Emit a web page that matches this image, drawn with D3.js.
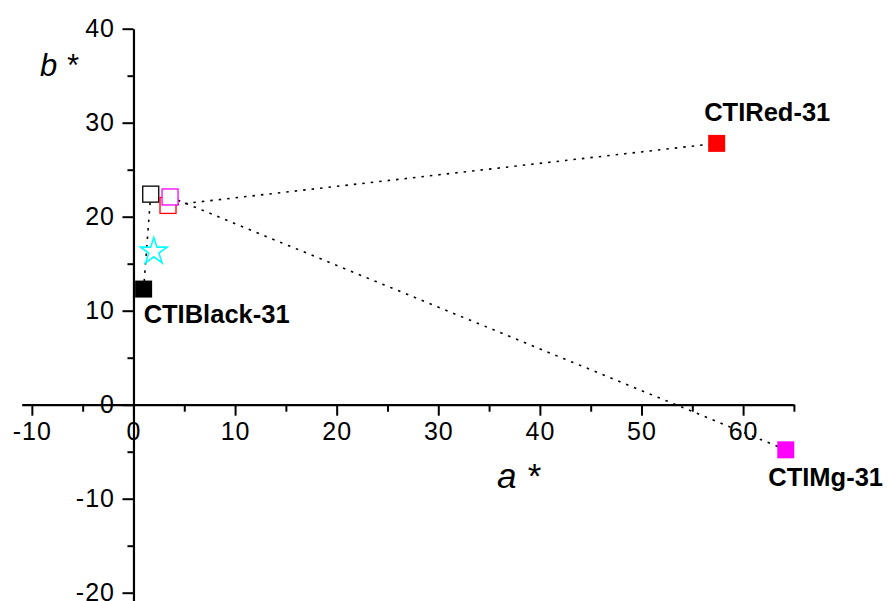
<!DOCTYPE html>
<html>
<head>
<meta charset="utf-8">
<script src="https://cdn.jsdelivr.net/npm/d3@7"></script>
<style>
  html, body { margin: 0; padding: 0; background: #fff; }
  svg { display: block; }
  text { font-family: "Liberation Sans", Arial, sans-serif; }
</style>
</head>
<body>
<svg id="chart" width="889" height="601"></svg>
<script>
// ---- data ----
const sampleNames = ["CTIBlack-31", "CTIRed-31", "CTIMg-31"];
const filledA = [1.0, 57.4, 64.2];
const filledB = [12.3, 27.8, -4.8];
const openA = [1.7, 3.4, 3.6];
const openB = [22.4, 21.2, 22.1];
const starA = [2.0];
const starB = [16.3];
const xTickValues = [-10, 0, 10, 20, 30, 40, 50, 60];
const xTickLabels = ["-10", "0", "10", "20", "30", "40", "50", "60"];
const yTickValues = [-20, -10, 0, 10, 20, 30, 40];
const yTickLabels = ["-20", "-10", "0", "10", "20", "30", "40"];
const xMinorValues = [-5, 5, 15, 25, 35, 45, 55, 65];
const yMinorValues = [-15, -5, 5, 15, 25, 35];

// ---- styles / layout ----
const colors = ["#000000", "#ff0000", "#ff00ff"];
const labelOffsets = [[0, 34], [-12.5, -22], [-17.5, 36]];

const svg = d3.select("#chart");
const x = d3.scaleLinear().domain([-11, 65]).range([21.7, 793.9]);
const y = d3.scaleLinear().domain([-21, 40]).range([602.1, 28.7]);

// axes
const xAxisG = svg.append("g").attr("transform", `translate(0,${y(0)})`);
xAxisG.call(d3.axisBottom(x).tickValues(xTickValues).tickSize(11).tickSizeOuter(0)
  .tickFormat((d, i) => xTickLabels[i]));
const xMinorG = svg.append("g").attr("transform", `translate(0,${y(0)})`);
xMinorG.call(d3.axisBottom(x).tickValues(xMinorValues).tickSize(7).tickSizeOuter(0).tickFormat(""));
xMinorG.select(".domain").remove();

const yAxisG = svg.append("g").attr("transform", `translate(${x(0)},0)`);
yAxisG.call(d3.axisLeft(y).tickValues(yTickValues).tickSize(11).tickSizeOuter(0)
  .tickFormat((d, i) => yTickLabels[i]));
const yMinorG = svg.append("g").attr("transform", `translate(${x(0)},0)`);
yMinorG.call(d3.axisLeft(y).tickValues(yMinorValues).tickSize(6).tickSizeOuter(0).tickFormat(""));
yMinorG.select(".domain").remove();

[xAxisG, xMinorG, yAxisG, yMinorG].forEach(g => {
  g.selectAll(".domain").attr("stroke", "#000").attr("stroke-width", 2.2);
  g.selectAll(".tick line").attr("stroke", "#000").attr("stroke-width", 2);
});
xAxisG.selectAll(".tick text")
  .attr("y", 35).attr("dy", 0)
  .attr("font-size", 25).attr("letter-spacing", 1)
  .attr("font-family", "Liberation Sans, Arial, sans-serif").attr("fill", "#000");
yAxisG.selectAll(".tick text")
  .attr("x", -18.5).attr("dy", "0.3em")
  .attr("font-size", 25).attr("letter-spacing", 1)
  .attr("font-family", "Liberation Sans, Arial, sans-serif").attr("fill", "#000");

// axis titles
svg.append("text").attr("x", 40).attr("y", 76)
  .attr("font-size", 31).attr("font-style", "italic").text("b *");
svg.append("text").attr("x", 497).attr("y", 488)
  .attr("font-size", 35).attr("font-style", "italic").text("a *");

// dotted connecting lines (open -> filled)
sampleNames.forEach((name, i) => {
  svg.append("line")
    .attr("x1", x(openA[i])).attr("y1", y(openB[i]))
    .attr("x2", x(filledA[i])).attr("y2", y(filledB[i]))
    .attr("stroke", "#000").attr("stroke-width", 1.6)
    .attr("stroke-dasharray", "2.5,6");
});

// open squares
const openSize = 16;
openA.forEach((a, i) => {
  svg.append("rect")
    .attr("x", x(a) - openSize / 2).attr("y", y(openB[i]) - openSize / 2)
    .attr("width", openSize).attr("height", openSize)
    .attr("fill", "#fff").attr("stroke", colors[i]).attr("stroke-width", 1.3);
});

// star
const star = d3.symbol().type(d3.symbolStar).size(220);
starA.forEach((a, i) => {
  svg.append("path").attr("d", star())
    .attr("transform", `translate(${x(a)},${y(starB[i])})`)
    .attr("fill", "none").attr("stroke", "#00ffff").attr("stroke-width", 1.6);
});

// filled squares
const filledSize = 17;
filledA.forEach((a, i) => {
  svg.append("rect")
    .attr("x", x(a) - filledSize / 2).attr("y", y(filledB[i]) - filledSize / 2)
    .attr("width", filledSize).attr("height", filledSize)
    .attr("fill", colors[i]);
});

// labels
sampleNames.forEach((name, i) => {
  svg.append("text")
    .attr("x", x(filledA[i]) + labelOffsets[i][0])
    .attr("y", y(filledB[i]) + labelOffsets[i][1])
    .attr("font-size", 25.5).attr("font-weight", "bold").attr("fill", "#000")
    .text(name);
});
</script>
</body>
</html>
